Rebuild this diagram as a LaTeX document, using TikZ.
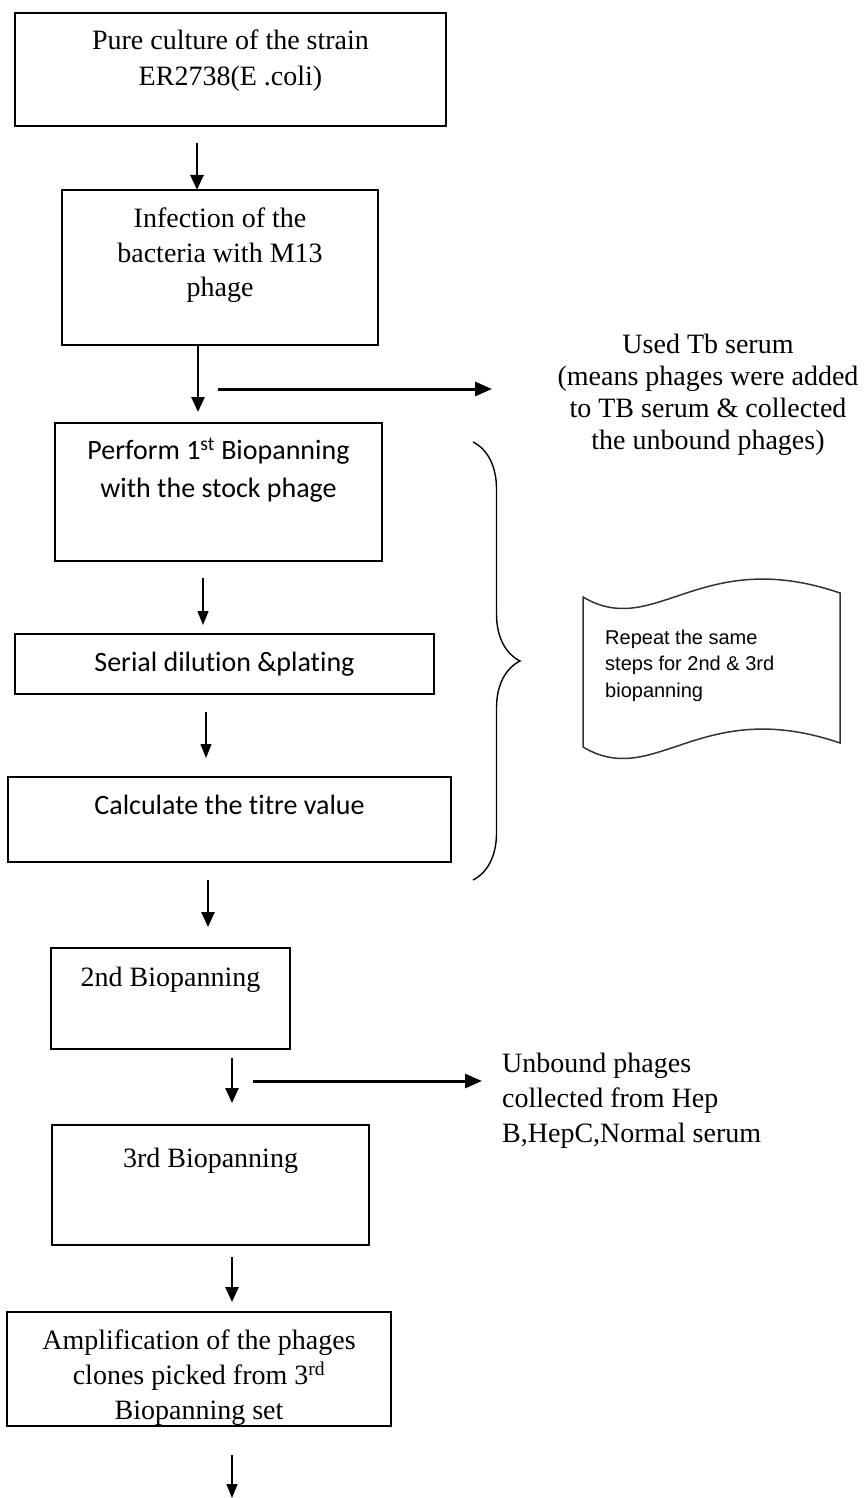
\documentclass[tikz,border=0pt]{standalone}
\usepackage{fontspec}
\setmainfont{Liberation Serif}
\newfontfamily\calibri[Ligatures=NoCommon]{Carlito}
\newfontfamily\arial{Liberation Sans}
\usetikzlibrary{arrows.meta, decorations.pathreplacing}

\tikzset{
  stepbox/.style={draw, line width=1.6pt, inner sep=0pt, outer sep=0pt, anchor=north, align=center},
  serifstep/.style={stepbox, font=\fontsize{28}{#1}\selectfont},
  serifstep/.default=35,
  calistep/.style={stepbox, font=\calibri\fontsize{28}{38}\selectfont},
  bigflow/.style={-{Triangle[width=13pt,length=15pt]}, line width=2.6pt},
  thinflow/.style={-{Triangle[width=11pt,length=14pt]}, line width=1.3pt},
  sideflow/.style={-{Triangle[width=14pt,length=17pt]}, line width=3pt},
}

\begin{document}
\begin{tikzpicture}[x=1pt, y=1pt]
\useasboundingbox (0,0) rectangle (864,-1498);

\node[serifstep=36, minimum width=431pt, text height=72.5pt, text depth=40.5pt] (culture) at (230.5,-13) {Pure culture of the strain\\ER2738(E .coli)};
\node[serifstep=34.5, minimum width=316pt, text height=106.5pt, text depth=48.5pt] (infect) at (220,-190) {Infection of the\\bacteria with M13\\phage};
\node[calistep, minimum width=327pt, text height=74.5pt, text depth=63.5pt] (pan1) at (218.5,-423) {Perform 1\textsuperscript{st} Biopanning\\with the stock phage};
\node[calistep, minimum width=419pt, text height=37.5pt, text depth=22.5pt] (dilute) at (224.5,-634) {Serial dilution \&plating};
\node[calistep, minimum width=443pt, text height=37.5pt, text depth=47.5pt] (titre) at (229.5,-777) {Calculate the titre value};
\node[serifstep, minimum width=239pt, text height=38.5pt, text depth=62.5pt] (pan2) at (170.5,-948) {2nd Biopanning};
\node[serifstep, minimum width=317pt, text height=42.5pt, text depth=77.5pt] (pan3) at (210.5,-1125) {3rd Biopanning};
\node[serifstep, minimum width=384pt, text height=107.5pt, text depth=6.5pt] (amplify) at (199,-1312) {Amplification of the phages\\clones picked from 3\textsuperscript{rd}\\Biopanning set};

\node[font=\fontsize{28}{32}\selectfont, align=center, anchor=north, inner sep=0pt] (tbnote) at (708,-333.5) {Used Tb serum\\(means phages were added\\to TB serum \& collected\\the unbound phages)};
\node[font=\fontsize{28}{35}\selectfont, align=left, anchor=north west, inner sep=0pt] (hepnote) at (502,-1052.5) {Unbound phages\\collected from Hep\\B,HepC,Normal serum};

\draw[line width=1.5pt, black!80] (583,-597) .. controls (655,-640) and (700,-545) .. (840,-593) -- (840,-743) .. controls (700,-695) and (655,-790) .. (583,-747) -- cycle;
\node[font=\arial\fontsize{20}{26.5}\selectfont, align=left, anchor=north west, inner sep=0pt] (repeatnote) at (605,-629.7) {Repeat the same\\steps for 2nd \& 3rd\\biopanning};

\draw[line width=1.4pt, decorate, decoration={brace, amplitude=47pt}] (473,-442) -- (473,-880);

\coordinate (tbto) at (492,-389);
\coordinate (hepto) at (482,-1081);
\coordinate (endtip) at (232,-1498);
\path ([xshift=-2pt,yshift=-44pt]infect.south) coordinate (tbfrom);
\path ([xshift=82.5pt,yshift=-32pt]pan2.south) coordinate (hepfrom);

\draw[bigflow] ([xshift=-33.5pt,yshift=-17pt]culture.south) -- ([xshift=-23pt]infect.north);
\draw[bigflow] ([xshift=-22pt]infect.south) -- ([xshift=-20.5pt,yshift=11pt]pan1.north);
\draw[sideflow] (tbfrom) -- (tbfrom -| tbto);
\draw[thinflow] ([xshift=-15.5pt,yshift=-17pt]pan1.south) -- ([xshift=-21.5pt,yshift=9pt]dilute.north);
\draw[thinflow] ([xshift=-18.5pt,yshift=-18pt]dilute.south) -- ([xshift=-23.5pt,yshift=19pt]titre.north);
\draw[bigflow] ([xshift=-21.5pt,yshift=-18pt]titre.south) -- ([xshift=37.5pt,yshift=21pt]pan2.north);
\draw[bigflow] ([xshift=61.5pt,yshift=-9pt]pan2.south) -- ([xshift=21.5pt,yshift=22pt]pan3.north);
\draw[sideflow] (hepfrom) -- (hepfrom -| hepto);
\draw[bigflow] ([xshift=21.5pt,yshift=-12pt]pan3.south) -- ([xshift=33pt,yshift=10pt]amplify.north);
\draw[thinflow] ([xshift=33pt,yshift=-29pt]amplify.south) -- (endtip);
\end{tikzpicture}
\end{document}
